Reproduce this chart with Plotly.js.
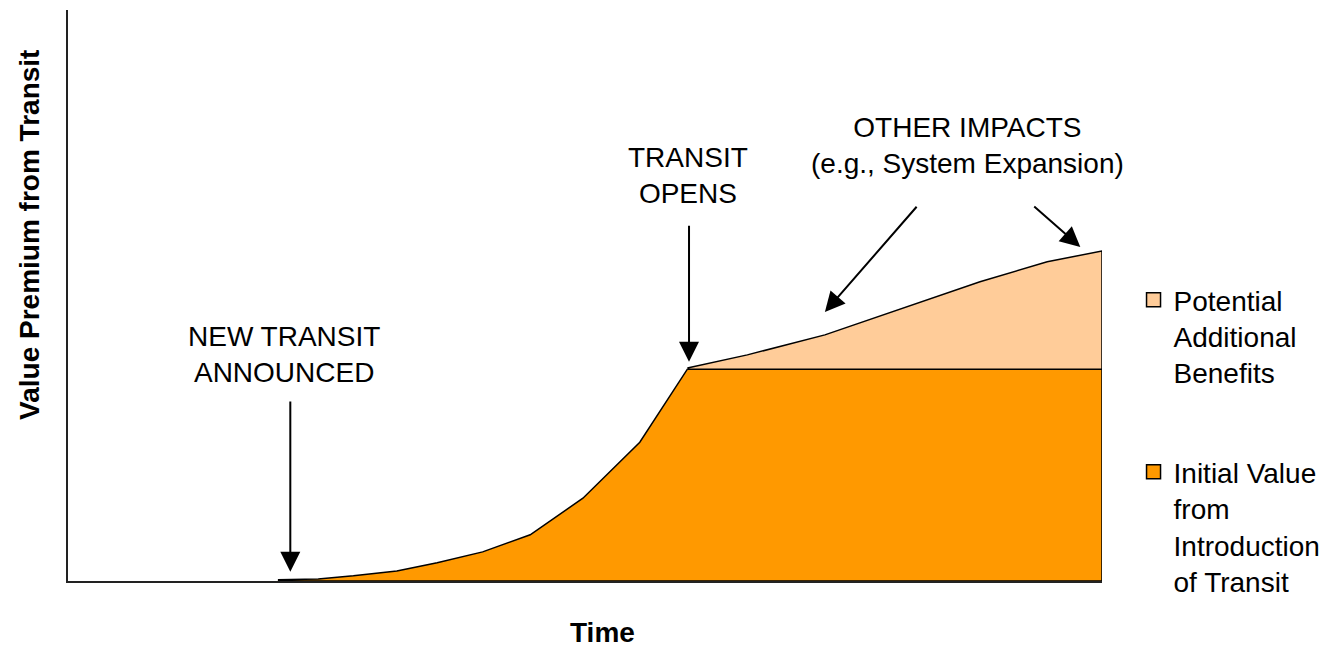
<!DOCTYPE html>
<html>
<head>
<meta charset="utf-8">
<script src="https://cdn.plot.ly/plotly-3.0.1.min.js"></script>
<style>
  html, body { margin: 0; padding: 0; background: #ffffff; }
  #chart { width: 1328px; height: 647px; }
</style>
</head>
<body>
<div id="chart"></div>
<script>
// ---- Data (time 0-100, value 0-100) ----
const timeInitial  = [20.3, 24.2, 27.6, 31.8, 35.7, 40.1, 44.7, 49.8, 55.3, 59.9, 100];
const valueInitial = [0.2, 0.35, 0.9, 1.75, 3.2, 5.1, 8.1, 14.5, 24.3, 37.1, 37.1];

const timePotential  = [59.9, 65.7, 73.2, 81.7, 88.2, 94.7, 100];
const valuePotential = [37.3, 39.6, 43.1, 48.3, 52.4, 55.9, 57.8];

const seriesNames = [
  "Potential<br>Additional<br>Benefits",
  "Initial Value<br>from<br>Introduction<br>of Transit"
];

const eventLabels = [
  "NEW TRANSIT<br>ANNOUNCED",
  "TRANSIT<br>OPENS",
  "OTHER IMPACTS<br>(e.g., System Expansion)"
];
// label anchor positions and arrow tips / tails (time, value)
const labelTime  = [20.9, 60.0, 87.0];
const labelValue = [39.6, 71.1, 76.2];
const arrowTipTime   = [21.5, 60.06, 73.2, 97.9];
const arrowTipValue  = [1.6, 38.4, 47.1, 58.5];
const arrowTailTime  = [21.5, 60.06, 82.2, 93.3];
const arrowTailValue = [31.7, 62.5, 65.8, 65.8];

const xTitle = "Time";
const yTitle = "Value Premium from Transit";

// ---- Styles ----
const FONT = "Arial, 'Liberation Sans', sans-serif";
const ORANGE = "#FF9900";
const LIGHT = "#FFCC99";

// closed polygons built from the data arrays
const nI = timeInitial.length;
const initX = timeInitial.concat([timeInitial[nI - 1], timeInitial[0]]);
const initY = valueInitial.concat([0, 0]);

const nP = timePotential.length;
const baseLevel = valueInitial[nI - 1];
const potX = timePotential.concat([timePotential[nP - 1], timePotential[0]]);
const potY = valuePotential.concat([baseLevel, baseLevel]);

const traces = [
  {
    x: initX, y: initY, type: "scatter", mode: "lines",
    fill: "toself", fillcolor: ORANGE,
    line: { color: "#000000", width: 1.5 },
    showlegend: false, hoverinfo: "skip"
  },
  {
    x: potX, y: potY, type: "scatter", mode: "lines",
    fill: "toself", fillcolor: LIGHT,
    line: { color: "#000000", width: 1.5 },
    showlegend: false, hoverinfo: "skip"
  },
  // legend entries
  {
    x: [null], y: [null], type: "scatter", mode: "markers",
    name: seriesNames[0], legendgroup: "a",
    marker: { symbol: "square", size: 14, color: LIGHT, line: { color: "#000", width: 1.5 } }
  },
  {
    x: [null], y: [null], type: "scatter", mode: "markers",
    name: seriesNames[1], legendgroup: "b",
    marker: { symbol: "square", size: 14, color: ORANGE, line: { color: "#000", width: 1.5 } }
  }
];

const annotations = [];
for (let i = 0; i < eventLabels.length; i++) {
  annotations.push({
    x: labelTime[i], y: labelValue[i], xref: "x", yref: "y",
    text: eventLabels[i], showarrow: false,
    xanchor: "center", yanchor: "middle",
    font: { family: FONT, size: 28, color: "#000" }
  });
}
for (let i = 0; i < arrowTipTime.length; i++) {
  annotations.push({
    x: arrowTipTime[i], y: arrowTipValue[i], xref: "x", yref: "y",
    ax: arrowTailTime[i], ay: arrowTailValue[i], axref: "x", ayref: "y",
    text: "", showarrow: true, arrowhead: 2, arrowsize: 2, arrowwidth: 2,
    arrowcolor: "#000", standoff: 0
  });
}
annotations.push({
  x: 0.517, y: -0.0895, xref: "paper", yref: "paper",
  text: "<b>" + xTitle + "</b>", showarrow: false,
  xanchor: "center", yanchor: "middle",
  font: { family: FONT, size: 28, color: "#000" }
});
annotations.push({
  x: -0.0368, y: 0.606, xref: "paper", yref: "paper",
  text: "<b>" + yTitle + "</b>", showarrow: false, textangle: -90,
  xanchor: "center", yanchor: "middle",
  font: { family: FONT, size: 28, color: "#000" }
});

const layout = {
  width: 1328, height: 647,
  margin: { l: 68, r: 226, t: 10, b: 66, autoexpand: false },
  paper_bgcolor: "#ffffff", plot_bgcolor: "#ffffff",
  font: { family: FONT, size: 28, color: "#000" },
  xaxis: {
    range: [0, 100], showgrid: false, zeroline: false, showticklabels: false,
    ticks: "", showline: true, linecolor: "#222", linewidth: 2, fixedrange: true
  },
  yaxis: {
    range: [0, 100], showgrid: false, zeroline: false, showticklabels: false,
    ticks: "", showline: true, linecolor: "#222", linewidth: 2, fixedrange: true
  },
  showlegend: true,
  legend: {
    x: 1.0305, y: 0.536, xanchor: "left", yanchor: "top",
    traceorder: "grouped", tracegroupgap: 60, valign: "top",
    font: { family: FONT, size: 28, color: "#000" },
    bgcolor: "rgba(0,0,0,0)", borderwidth: 0
  },
  annotations: annotations
};

Plotly.newPlot("chart", traces, layout, { displayModeBar: false, staticPlot: true });
</script>
</body>
</html>
